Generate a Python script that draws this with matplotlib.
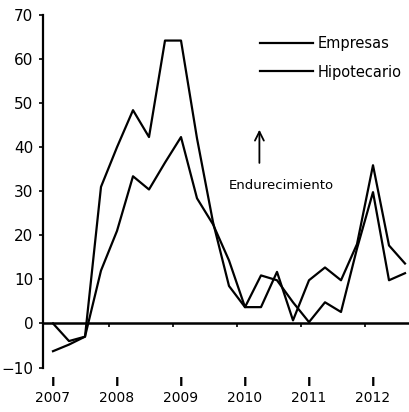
import matplotlib

matplotlib.use("Agg")
import matplotlib.pyplot as plt
import numpy as np

# quarterly series, 2007Q1 .. 2012Q3
years = ["2007", "2008", "2009", "2010", "2011", "2012"]
empresas = [0, -4, -3, 31, 40, 48.4, 42.3, 64.2, 64.2, 42, 23, 8.5,
            3.7, 3.7, 11.7, 0.7, 9.8, 12.7, 9.8, 18, 35.9, 17.7, 13.6]
hipotecario = [-6.3, -4.8, -3, 12, 21, 33.4, 30.4, 36.5, 42.3, 28.4, 22.5, 14.3,
               3.7, 10.9, 9.8, 4.8, 0.3, 4.8, 2.6, 17, 29.8, 9.8, 11.4]
y_ticks = [-10, 0, 10, 20, 30, 40, 50, 60, 70]

plt.rcParams["font.family"] = ["DejaVu Sans"]

x = np.arange(len(empresas))
year_pos = np.arange(len(years)) * 4
boundaries = year_pos[1:] - 0.5

fig = plt.figure(figsize=(4.09, 4.12), dpi=100)
ax = fig.add_axes([43 / 409, 44.5 / 412, 366 / 409, 352.5 / 412])

ax.plot(x, empresas, color="black", lw=1.6, label="Empresas")
ax.plot(x, hipotecario, color="black", lw=1.6, label="Hipotecario")
ax.axhline(0, color="black", lw=1.8)
ax.vlines(boundaries, -0.8, 0, color="black", lw=1.2)

ax.set_xlim(-0.625, 22.25)
ax.set_ylim(-10, 70)
ax.set_yticks(y_ticks)
ax.tick_params(axis="y", direction="out", length=3, width=1.2, pad=4, labelsize=11)
ax.set_xticks([])
for side in ["top", "right", "bottom"]:
    ax.spines[side].set_visible(False)
ax.spines["left"].set_linewidth(1.6)

for pos, label in zip(year_pos, years):
    ax.text(pos, -13.5, "I", ha="center", va="center", fontsize=9, fontweight="bold",
            clip_on=False)
    ax.text(pos, -17.0, label, ha="center", va="center", fontsize=10, clip_on=False)

ax.annotate("", xy=(12.9, 44.6), xytext=(12.9, 35.8),
            arrowprops=dict(arrowstyle="->", lw=1.3, mutation_scale=16, color="black"))
ax.text(14.25, 31.4, "Endurecimiento", ha="center", va="center", fontsize=9.5)

ax.legend(loc="upper left", bbox_to_anchor=(12.94, 65.3), bbox_transform=ax.transData,
          frameon=False, fontsize=10.5, handlelength=3.6, handletextpad=0.35,
          labelspacing=0.95, borderpad=0, borderaxespad=0)

fig.savefig("out.png", dpi=100)
